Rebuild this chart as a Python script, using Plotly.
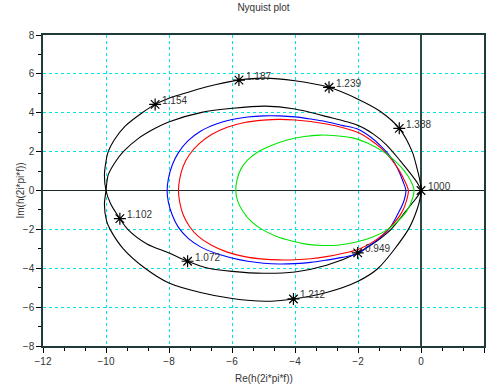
import plotly.graph_objects as go

# ---- data ----
# Black curve A: outer upper arc, inner lower arc
a_re = [0.00, -0.04, -0.12, -0.28, -0.69, -1.30, -2.00, -2.92, -4.00, -5.00, -5.78, -6.50, -7.00,
        -7.50, -8.00, -8.44, -8.85, -9.40, -9.74, -9.93, -10.00, -10.05, -10.00, -9.85, -9.56, -9.31,
        -8.70, -8.00, -7.41, -6.75, -6.00, -5.00, -4.00, -3.00, -2.01, -1.40, -0.95, -0.50, -0.18, 0.00]
a_im = [0.00, 0.55, 1.10, 2.00, 3.20, 4.08, 4.70, 5.31, 5.65, 5.78, 5.68, 5.45, 5.25,
        5.00, 4.75, 4.43, 4.00, 3.30, 2.60, 2.00, 1.50, 0.80, 0.00, -0.70, -1.45, -2.00,
        -2.75, -3.21, -3.64, -4.00, -4.16, -4.26, -4.19, -3.85, -3.21, -2.60, -2.00, -1.10, -0.45, 0.00]

# Black curve B: inner upper arc, outer lower arc
b_re = [0.00, -0.10, -0.30, -0.67, -1.09, -1.51, -2.00, -2.99, -4.00, -4.95, -5.98, -6.96, -7.99,
        -8.44, -8.97, -9.45, -9.70, -9.93, -10.00, -10.05, -9.98, -9.87, -9.45, -8.76, -8.00, -7.00,
        -6.00, -4.95, -4.05, -3.00, -2.00, -1.36, -0.40, -0.12, -0.03, 0.00]
b_im = [0.00, 0.35, 0.80, 1.55, 2.34, 2.90, 3.35, 3.80, 4.19, 4.34, 4.23, 4.02, 3.54,
        3.20, 2.68, 2.00, 1.48, 0.80, 0.00, -0.73, -1.58, -2.00, -3.00, -4.00, -4.76, -5.25,
        -5.56, -5.70, -5.58, -5.25, -4.67, -4.00, -2.00, -0.95, -0.40, 0.00]

blue_re = [-0.48, -0.58, -0.72, -0.95, -1.25, -1.60, -2.00, -2.50, -3.00, -3.50, -4.00, -4.50, -5.00,
           -5.50, -6.00, -6.50, -7.00, -7.40, -7.70, -7.90, -8.02, -8.06,
           -8.02, -7.90, -7.70, -7.40, -7.00, -6.50, -6.00, -5.50, -5.00, -4.50, -4.00, -3.50,
           -3.00, -2.50, -2.00, -1.75, -1.35, -1.00, -0.75, -0.56, -0.48]
blue_im = [0.00, 0.50, 1.05, 1.70, 2.25, 2.75, 3.15, 3.35, 3.54, 3.68, 3.79, 3.84, 3.84,
           3.78, 3.65, 3.42, 3.05, 2.55, 1.95, 1.30, 0.60, 0.00,
           -0.60, -1.25, -1.90, -2.45, -2.90, -3.24, -3.47, -3.64, -3.74, -3.78, -3.76, -3.70,
           -3.58, -3.44, -3.26, -2.97, -2.50, -1.95, -1.25, -0.62, 0.00]

red_re = [-0.40, -0.52, -0.70, -0.95, -1.25, -1.60, -2.00, -2.50, -3.00, -3.50, -4.00, -4.50, -5.00,
          -5.60, -6.15, -6.65, -7.05, -7.35, -7.55, -7.66, -7.70,
          -7.66, -7.55, -7.35, -7.08, -6.65, -6.15, -5.60, -5.00, -4.50, -4.00, -3.50, -3.00,
          -2.50, -2.00, -1.60, -1.22, -0.88, -0.60, -0.46, -0.40]
red_im = [0.00, 0.50, 1.05, 1.62, 2.15, 2.60, 2.98, 3.24, 3.42, 3.55, 3.63, 3.66, 3.62,
          3.50, 3.25, 2.88, 2.40, 1.85, 1.25, 0.60, 0.00,
          -0.60, -1.25, -1.85, -2.35, -2.82, -3.17, -3.40, -3.53, -3.57, -3.56, -3.51, -3.40,
          -3.24, -3.03, -2.72, -2.28, -1.72, -1.10, -0.52, 0.00]

green_re = [-0.22, -0.33, -0.55, -0.88, -1.25, -1.70, -2.20, -2.70, -3.20, -3.70, -4.25, -4.75,
            -5.18, -5.50, -5.72, -5.84, -5.88,
            -5.82, -5.65, -5.40, -5.05, -4.60, -4.10, -3.60, -3.10, -2.60, -2.05, -1.55, -1.10,
            -0.75, -0.47, -0.30, -0.22]
green_im = [0.00, 0.52, 1.05, 1.60, 2.05, 2.45, 2.72, 2.82, 2.85, 2.78, 2.60, 2.32,
            1.98, 1.58, 1.10, 0.55, 0.00,
            -0.55, -1.08, -1.58, -2.00, -2.35, -2.60, -2.77, -2.83, -2.80, -2.65, -2.40, -2.05,
            -1.60, -1.10, -0.55, 0.00]

mk_re = [0.00, -0.69, -2.92, -5.78, -8.44, -9.56, -7.41, -2.01, -4.05]
mk_im = [0.00, 3.20, 5.31, 5.68, 4.43, -1.45, -3.64, -3.21, -5.58]
mk_lbl = ["1000", "1.388", "1.239", "1.187", "1.154", "1.102", "1.072", "0.949", "1.212"]

x_ticks = [-12, -10, -8, -6, -4, -2, 0, 2]
y_ticks = [-8, -6, -4, -2, 0, 2, 4, 6, 8]

FONT = "Liberation Sans, Arial, Helvetica, sans-serif"

fig = go.Figure()
for xs, ys, col in [(a_re, a_im, "black"), (b_re, b_im, "black"),
                    (blue_re, blue_im, "#0000ff"), (red_re, red_im, "#ff0000"),
                    (green_re, green_im, "#00e600")]:
    fig.add_trace(go.Scatter(x=xs, y=ys, mode="lines",
                             line=dict(color=col, width=1.1, shape="spline", smoothing=0.8),
                             hoverinfo="skip", showlegend=False))

fig.add_trace(go.Scatter(x=mk_re, y=mk_im, mode="markers",
                         marker=dict(symbol="asterisk-open", size=10, color="black",
                                     line=dict(color="black", width=1.2)),
                         hoverinfo="skip", showlegend=False))

annotations = []
for xv, yv, t in zip(mk_re, mk_im, mk_lbl):
    annotations.append(dict(x=xv, y=yv, xref="x", yref="y", text=t, showarrow=False,
                            xanchor="left", yanchor="middle", xshift=5, yshift=4,
                            font=dict(family=FONT, size=10, color="#333333")))
annotations.append(dict(x=0.5, y=0, xref="paper", yref="paper", text="Re(h(2i*pi*f))",
                        showarrow=False, xanchor="center", yanchor="middle", yshift=-32,
                        font=dict(family=FONT, size=10, color="#333333")))
annotations.append(dict(x=0, y=0.5, xref="paper", yref="paper", text="Im(h(2i*pi*f))",
                        showarrow=False, xanchor="center", yanchor="middle", xshift=-23,
                        textangle=-90, font=dict(family=FONT, size=10, color="#333333")))

axis_common = dict(ticks="outside", ticklen=5, tickcolor="black", tickwidth=1,
                   showgrid=True, gridcolor="#00e5e5", griddash="dot", gridwidth=1,
                   zeroline=True, showline=True, linecolor="#1e3a3a", linewidth=1.5,
                   mirror=True, automargin=False,
                   tickfont=dict(family=FONT, size=10, color="#333333"))

fig.update_layout(
    width=487, height=391,
    margin=dict(l=43, r=3, t=35, b=45),
    paper_bgcolor="white", plot_bgcolor="white",
    title=dict(text="Nyquist plot", x=0.5, xref="paper", xanchor="center",
               y=1 - 7.5 / 391, yref="container", yanchor="middle",
               font=dict(family=FONT, size=10, color="#333333")),
    xaxis=dict(range=[-12, 2], tickvals=x_ticks, zerolinecolor="#2a4a4a", zerolinewidth=2,
               minor=dict(ticks="outside", ticklen=3, tick0=-12, dtick=2 / 3,
                          tickcolor="black", showgrid=False),
               **axis_common),
    yaxis=dict(range=[-8, 8], tickvals=y_ticks, zerolinecolor="#1a2a2a", zerolinewidth=1,
               minor=dict(ticks="outside", ticklen=3, tick0=-8, dtick=1,
                          tickcolor="black", showgrid=False),
               **axis_common),
    annotations=annotations,
    showlegend=False,
)

fig.write_html("out.html", config={"displayModeBar": False},
               post_script="document.body.style.margin='0px';")
